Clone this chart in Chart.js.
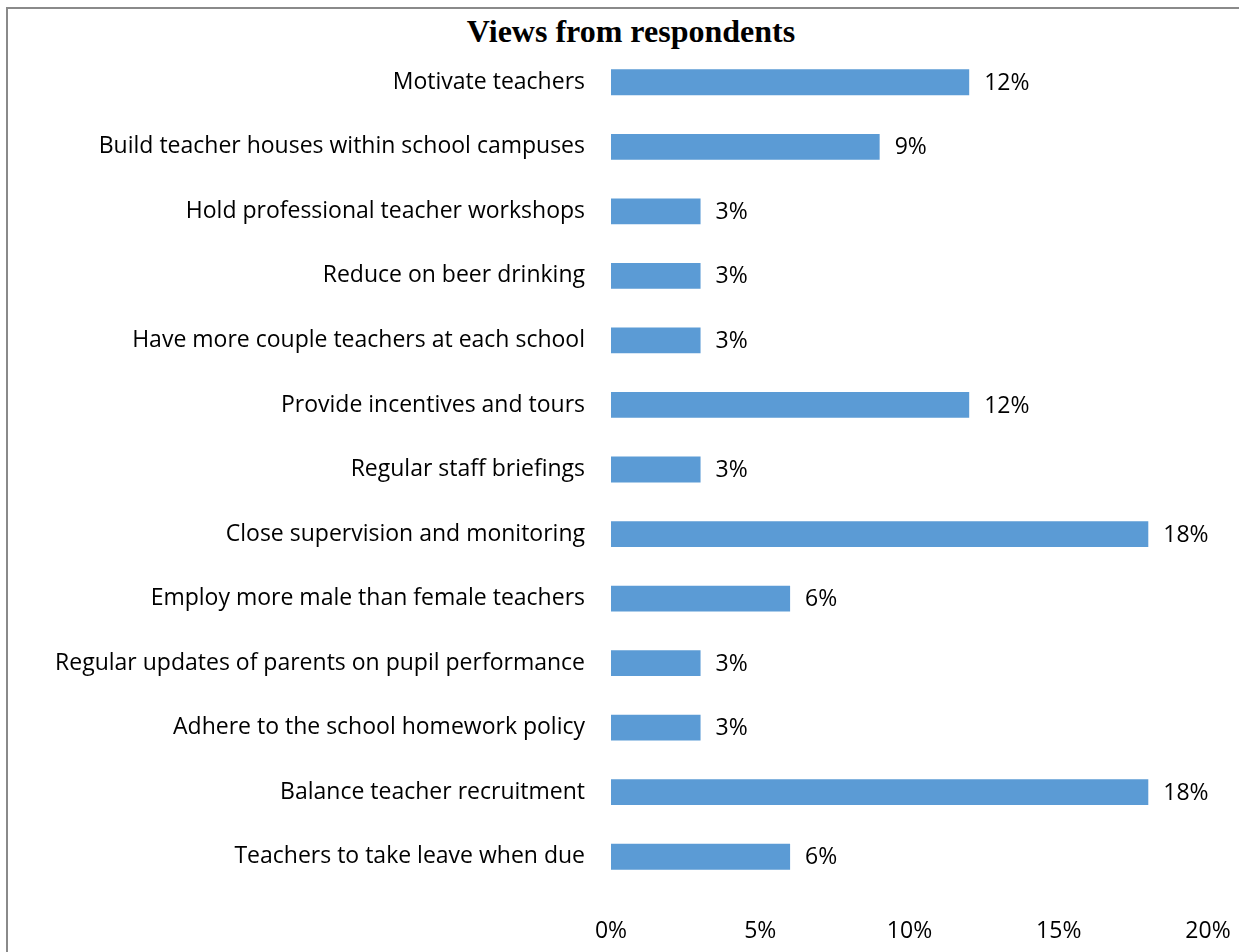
<!DOCTYPE html>
<html>
<head>
<meta charset="utf-8">
<script src="https://cdn.jsdelivr.net/npm/chart.js@4"></script>
<style>
  html, body { margin: 0; background: #fff; overflow: hidden; }
  #frame { position: absolute; left: 6px; top: 7px; width: 1300px; height: 1000px;
           border-left: 2px solid #8a8a8a; border-top: 2px solid #8a8a8a; }
  #title { position: absolute; left: 381px; width: 500px; top: 13px; text-align: center;
           font: bold 32px "Liberation Serif", "Times New Roman", serif; color: #000; }
  #myChart { position: absolute; left: 0; top: 0; }
</style>
</head>
<body>
<div id="frame"></div>
<div id="title">Views from respondents</div>
<canvas id="myChart" width="1239" height="952"></canvas>
<script>
// categories, top to bottom
const categories = [
    'Motivate teachers',
    'Build teacher houses within school campuses',
    'Hold professional teacher workshops',
    'Reduce on beer drinking',
    'Have more couple teachers at each school',
    'Provide incentives and tours',
    'Regular staff briefings',
    'Close supervision and monitoring',
    'Employ more male than female teachers',
    'Regular updates of parents on pupil performance',
    'Adhere to the school homework policy',
    'Balance teacher recruitment',
    'Teachers to take leave when due'
];
// percent of respondents
const values = [12, 9, 3, 3, 3, 12, 3, 18, 6, 3, 3, 18, 6];
const xTicks = [0, 5, 10, 15, 20];

const labelFont = { family: '"Open Sans", sans-serif', size: 23 };

// draws the "12%" style labels just right of each bar
const valueLabels = {
    id: 'valueLabels',
    afterDatasetsDraw(chart) {
        const ctx = chart.ctx;
        const meta = chart.getDatasetMeta(0);
        ctx.save();
        ctx.font = labelFont.size + 'px ' + labelFont.family;
        ctx.fillStyle = '#000';
        ctx.textAlign = 'left';
        ctx.textBaseline = 'middle';
        meta.data.forEach((bar, i) => {
            ctx.fillText(values[i] + '%', bar.x + 15, bar.y + 1);
        });
        ctx.restore();
    }
};

var ctx = document.getElementById('myChart').getContext('2d');
var myChart = new Chart(ctx, {
    type: 'bar',
    data: {
        labels: categories,
        datasets: [{
            data: values,
            backgroundColor: '#5B9BD5',
            borderWidth: 0,
            barPercentage: 0.4,
            categoryPercentage: 1
        }]
    },
    options: {
        indexAxis: 'y',
        responsive: false,
        animation: false,
        layout: { padding: { top: 50, left: 0, right: 31, bottom: 0 } },
        plugins: {
            legend: { display: false },
            tooltip: { enabled: false }
        },
        scales: {
            x: {
                min: 0,
                max: 20,
                afterBuildTicks: (axis) => { axis.ticks = xTicks.map(v => ({ value: v })); },
                afterFit: (axis) => {
                    axis.height = 63;
                    axis.paddingLeft = 0;
                    axis.paddingRight = 0;
                },
                grid: { display: false, drawTicks: false },
                border: { display: false },
                ticks: {
                    padding: 29,
                    color: '#000',
                    font: labelFont,
                    maxRotation: 0,
                    callback: (v) => v + '%'
                }
            },
            y: {
                afterFit: (axis) => { axis.width = 611; },
                grid: { display: false, drawTicks: false },
                border: { display: false },
                ticks: {
                    padding: 26,
                    color: '#000',
                    font: labelFont,
                    autoSkip: false
                }
            }
        }
    },
    plugins: [valueLabels]
});
</script>
</body>
</html>
